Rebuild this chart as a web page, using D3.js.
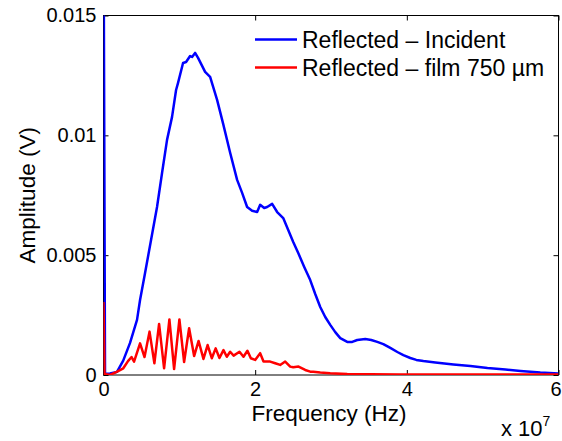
<!DOCTYPE html>
<html><head><meta charset="utf-8">
<script src="https://cdn.jsdelivr.net/npm/d3@7"></script>
<style>body{margin:0;background:#fff}svg{display:block}text{font-family:"Liberation Sans",Arial,sans-serif;fill:#000}</style>
</head><body><div id="chart"></div>
<script>
// Units: frequency in MHz, amplitude in mV
const FREQ_UNIT = 1e6, AMP_UNIT = 1e-3;
const seriesNames = ["Reflected \u2013 Incident", "Reflected \u2013 film 750 \u00b5m"];
const seriesColors = ["#0000ff", "#ff0000"];
const xTicks = [0, 2e7, 4e7, 6e7];
const xTickLabels = ["0", "2", "4", "6"];
const yTicks = [0, 0.005, 0.01, 0.015];
const yTickLabels = ["0", "0.005", "0.01", "0.015"];

const incidentFreq = [0, 0.2, 0.86, 1.78, 2.6, 3.5, 4.42, 4.82, 5.48, 6.27, 7.06, 7.72, 8.38, 9.04, 9.57, 9.83, 10.49, 10.89, 11.42, 11.68, 12.08, 12.47, 13.4, 14.06, 14.46, 14.98, 15.78, 16.7, 17.62, 18.28, 18.94, 19.6, 20.26, 20.66, 21.19, 21.58, 22.24, 22.9, 23.7, 24.36, 25.02, 25.68, 26.47, 27.26, 27.92, 28.58, 29.24, 29.9, 30.56, 31.22, 32.14, 32.8, 33.46, 34.52, 35.31, 36.1, 36.9, 37.82, 38.75, 39.54, 40.46, 41.25, 42.18, 43.76, 46.14, 48.38, 50.63, 53.0, 54.99, 57.6, 60];
const incidentAmp = [20, 0.04, 0.06, 0.13, 0.6, 1.34, 2.3, 3.13, 4.26, 5.63, 7.01, 8.43, 9.81, 10.77, 11.89, 12.19, 13.02, 13.06, 13.31, 13.27, 13.44, 13.23, 12.65, 12.44, 12.02, 11.48, 10.48, 9.27, 8.14, 7.6, 7.01, 6.85, 6.8, 7.1, 6.97, 7.01, 7.14, 6.8, 6.55, 6.05, 5.55, 5.09, 4.51, 3.96, 3.38, 2.84, 2.42, 2.09, 1.79, 1.54, 1.38, 1.38, 1.46, 1.5, 1.46, 1.38, 1.29, 1.13, 0.96, 0.83, 0.71, 0.63, 0.58, 0.52, 0.44, 0.38, 0.29, 0.23, 0.17, 0.1, 0.06];

const filmFreq = [0, 0.13, 0.86, 1.74, 2.61, 3.23, 3.7, 4.03, 4.82, 5.41, 6.07, 6.71, 7.33, 7.99, 8.69, 9.31, 10.01, 10.63, 11.29, 11.95, 12.54, 13.18, 13.73, 14.28, 14.79, 15.29, 15.82, 16.26, 16.7, 17.16, 17.93, 18.46, 18.98, 19.43, 20.0, 20.66, 21.1, 21.98, 22.64, 23.3, 23.96, 24.62, 25.02, 25.72, 26.6, 27.26, 27.66, 28.58, 29.9, 32.14, 35.2, 39.1, 45, 52, 60];
const filmAmp = [3.05, 0.04, 0.0, 0.13, 0.28, 0.58, 0.75, 0.56, 1.32, 0.75, 1.81, 0.49, 2.13, 0.28, 2.32, 0.25, 2.32, 0.54, 1.95, 0.79, 1.42, 0.67, 1.25, 0.7, 1.11, 0.71, 1.04, 0.76, 0.97, 0.81, 0.97, 0.76, 1.01, 0.7, 0.63, 0.91, 0.56, 0.56, 0.49, 0.42, 0.56, 0.35, 0.32, 0.35, 0.21, 0.14, 0.14, 0.1, 0.07, 0.04, 0.03, 0.02, 0.02, 0.02, 0.02];

const W = 562, H = 441;
const m = {left: 103.5, top: 15.5, right: 558.5, bottom: 375};
const FS_TICK = 20, FS_LABEL = 22.5;

const svg = d3.select("#chart").append("svg").attr("width", W).attr("height", H);
const x = d3.scaleLinear().domain([0, 6e7]).range([m.left, m.right]);
const y = d3.scaleLinear().domain([0, 0.015]).range([m.bottom, m.top]);

svg.append("defs").append("clipPath").attr("id", "clip").append("rect")
  .attr("x", m.left).attr("y", m.top).attr("width", m.right - m.left).attr("height", m.bottom - m.top);

// box
svg.append("rect").attr("x", m.left).attr("y", m.top).attr("width", m.right - m.left).attr("height", m.bottom - m.top)
  .attr("fill", "none").attr("stroke", "#000").attr("stroke-width", 1);

const tl = 5;
const xAxisB = d3.axisBottom(x).tickValues(xTicks).tickSize(-tl).tickPadding(7).tickFormat((d, i) => xTickLabels[i]);
const gxb = svg.append("g").attr("transform", `translate(0,${m.bottom})`).call(xAxisB);
gxb.selectAll(".tick text").filter((d, i) => i === xTicks.length - 1).attr("dx", -3);
const gxt = svg.append("g").attr("transform", `translate(0,${m.top})`).call(d3.axisTop(x).tickValues(xTicks).tickSize(-tl).tickFormat(""));
const yAxisL = d3.axisLeft(y).tickValues(yTicks).tickSize(-tl).tickPadding(tl + 2).tickFormat((d, i) => yTickLabels[i]);
const gyl = svg.append("g").attr("transform", `translate(${m.left},0)`).call(yAxisL);
const gyr = svg.append("g").attr("transform", `translate(${m.right},0)`).call(d3.axisRight(y).tickValues(yTicks).tickSize(-tl).tickFormat(""));
[gxb, gxt, gyl, gyr].forEach(g => {
  g.select(".domain").remove();
  g.selectAll(".tick line").attr("stroke", "#000");
  g.selectAll("text").style("font-size", FS_TICK + "px").attr("fill", "#000");
});

// lines
const line = d3.line().x(d => x(d[0] * FREQ_UNIT)).y(d => y(d[1] * AMP_UNIT));
const seriesData = [
  incidentFreq.map((f, i) => [f, incidentAmp[i]]),
  filmFreq.map((f, i) => [f, filmAmp[i]])
];
const plot = svg.append("g").attr("clip-path", "url(#clip)");
seriesData.forEach((d, i) => {
  plot.append("path").datum(d).attr("d", line).attr("fill", "none")
    .attr("stroke", seriesColors[i]).attr("stroke-width", 2.5).attr("stroke-linejoin", "round");
});

// legend
const lg = svg.append("g");
seriesNames.forEach((name, i) => {
  const ly = 39.5 + i * 28;
  lg.append("line").attr("x1", 255).attr("x2", 297).attr("y1", ly).attr("y2", ly)
    .attr("stroke", seriesColors[i]).attr("stroke-width", 2.5);
  lg.append("text").attr("x", 302).attr("y", ly + 8.5).style("font-size", "23px").text(name);
});

// axis labels
svg.append("text").attr("x", 329).attr("y", 421).attr("text-anchor", "middle")
  .style("font-size", FS_LABEL + "px").text("Frequency (Hz)");
svg.append("text").attr("transform", `translate(35,${(m.top + m.bottom) / 2}) rotate(-90)`).attr("text-anchor", "middle")
  .style("font-size", "22.5px").text("Amplitude (V)");
const mult = svg.append("text").attr("x", 501).attr("y", 436).style("font-size", "22px");
mult.append("tspan").text("x 10");
mult.append("tspan").attr("dy", -10).style("font-size", "14px").text("7");
</script></body></html>
